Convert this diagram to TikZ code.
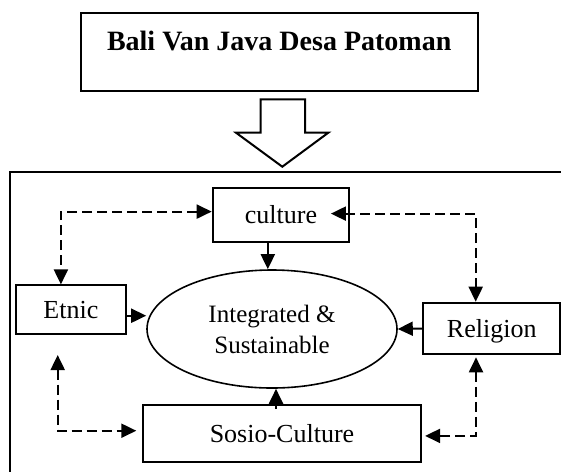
\documentclass[tikz,border=0pt]{standalone}
\usepackage{fontspec}
\setmainfont{Liberation Serif}
\usetikzlibrary{arrows.meta,shapes.geometric}

\begin{document}
\begin{tikzpicture}[x=0.5pt, y=-0.5pt, line width=1pt,
    >={Triangle[length=7.5pt,width=7pt]},
    box/.style={draw, inner sep=0pt, text height=8.8pt, text depth=0pt, font=\fontsize{13}{15}\selectfont},
    link/.style={->},
    dashlink/.style={<->, dash pattern=on 5pt off 2.5pt}]
    \useasboundingbox (0,0) rectangle (561,472);

    % Title
    \node[draw, inner sep=0pt, minimum width=198.5pt, text height=19pt, text depth=20pt,
          font=\fontsize{14}{17}\selectfont\bfseries] (title) at (279.2,51.7) {Bali Van Java Desa Patoman};

    % Hollow arrow
    \draw (260.5,99.3) -- (305,99.3) -- (305,132.7) -- (328.3,132.7) -- (282.3,166.7) -- (236,132.7) -- (260.5,132.7) -- cycle;

    % Frame
    \draw (561,172) -- (10,172) -- (10,472);

    % Boxes
    \node[box, minimum width=68.3pt, minimum height=27.1pt] (culture) at (281,214.6) {culture};
    \node[box, minimum width=55.2pt, minimum height=24.3pt] (etnic) at (70.9,309.7) {Etnic};
    \node[box, minimum width=68.3pt, minimum height=25.8pt] (religion) at (491.7,328.5) {Religion};
    \node[box, minimum width=138.7pt, minimum height=28.3pt] (sosio) at (282,433.3) {Sosio-Culture};
    \node[draw, ellipse, line width=0.8pt, inner sep=0pt, minimum width=125pt, minimum height=59pt, align=center,
          font=\fontsize{12.5}{15.5}\selectfont] (integ) at (272,329) {Integrated \&\\Sustainable};

    % Arrows
    \draw[link] ([xshift=-6.6pt]culture.south) -- ([xshift=-6.6pt]culture.south |- integ.north);
    \draw[link] ([yshift=-3pt]etnic.east) -- ([yshift=-3pt]integ.west |- etnic.east);
    \draw[link] (religion.west) -- (integ.east);
    \draw[link] ([xshift=-3pt,yshift=-2.5pt]sosio.north) -- ([xshift=-3pt]sosio.north |- integ.south);

    % Dashed links
    \draw[dashlink] ([yshift=1.5pt]culture.west) -| ([xshift=-5pt]etnic.north);
    \draw[dashlink] ([xshift=-9.7pt,yshift=0.5pt]culture.east) -| ([xshift=-8pt]religion.north);
    \draw[dashlink] ([xshift=-6.6pt,yshift=-10pt]etnic.south) |- ([xshift=-3pt,yshift=1.3pt]sosio.west);
    \draw[dashlink] ([xshift=-7.85pt,yshift=-1pt]religion.south) |- ([xshift=1.7pt,yshift=-1.3pt]sosio.east);
\end{tikzpicture}
\end{document}
